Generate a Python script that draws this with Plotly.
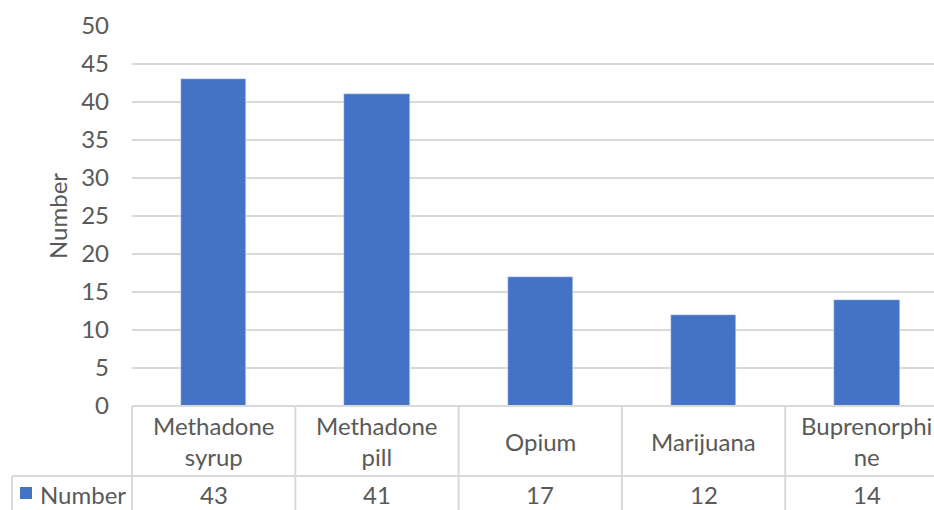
import plotly.graph_objects as go

categories = ["Methadone<br>syrup", "Methadone<br>pill", "Opium", "Marijuana", "Buprenorphi<br>ne"]
values = [43, 41, 17, 12, 14]
series_name = "Number"
y_title = "Number"

W, H = 934, 510
L, R, T, B = 132, 0, 26, 104
plot_w = W - L - R
plot_h = H - T - B
col_w = 163.3
n = len(categories)
x_min = -0.5
x_max = x_min + plot_w / col_w

BAR = "#4472C4"
TXT = "#595959"
GRID = "#D9D9D9"
FONT = "Lato"
FS = 24

def px_x(px):
    return (px - L) / plot_w

def px_y(py):
    return (H - B - py) / plot_h

def data_x(xv):
    return (xv - x_min) / (x_max - x_min)

fig = go.Figure()
fig.add_trace(go.Bar(x=list(range(n)), y=values, marker_color=BAR, width=0.4,
                     name=series_name, showlegend=False))

shapes = []
row1_bot = 476
shapes.append(dict(type="line", xref="paper", yref="paper", x0=0, x1=1,
                   y0=px_y(406), y1=px_y(406), line=dict(color=GRID, width=2)))
shapes.append(dict(type="line", xref="paper", yref="paper", x0=px_x(12), x1=1,
                   y0=px_y(row1_bot), y1=px_y(row1_bot), line=dict(color=GRID, width=2)))
for i in range(n + 1):
    xp = data_x(i - 0.5)
    if xp > 1.0001:
        continue
    shapes.append(dict(type="line", xref="paper", yref="paper", x0=xp, x1=xp,
                       y0=px_y(406), y1=px_y(H + 5), line=dict(color=GRID, width=2)))
shapes.append(dict(type="line", xref="paper", yref="paper", x0=px_x(12), x1=px_x(12),
                   y0=px_y(row1_bot), y1=px_y(H + 5), line=dict(color=GRID, width=2)))
shapes.append(dict(type="rect", xref="paper", yref="paper", x0=px_x(20), x1=px_x(32),
                   y0=px_y(499), y1=px_y(487), fillcolor=BAR, line=dict(width=0)))

annotations = []
for i, (c, v) in enumerate(zip(categories, values)):
    annotations.append(dict(x=data_x(i), y=px_y(441), xref="paper", yref="paper",
                            text=c, showarrow=False, xanchor="center", yanchor="middle",
                            font=dict(family=FONT, size=FS, color=TXT)))
    annotations.append(dict(x=data_x(i), y=px_y(494), xref="paper", yref="paper",
                            text=str(v), showarrow=False, xanchor="center", yanchor="middle",
                            font=dict(family=FONT, size=FS, color=TXT)))
annotations.append(dict(x=px_x(38), y=px_y(494), xref="paper", yref="paper",
                        text=series_name, showarrow=False, xanchor="left", yanchor="middle",
                        font=dict(family=FONT, size=FS, color=TXT)))
annotations.append(dict(x=px_x(57), y=0.5, xref="paper", yref="paper",
                        text=y_title, showarrow=False, textangle=-90,
                        xanchor="center", yanchor="middle",
                        font=dict(family=FONT, size=FS, color=TXT)))

fig.update_layout(
    width=W, height=H,
    margin=dict(l=L, r=R, t=T, b=B, pad=0),
    plot_bgcolor="white", paper_bgcolor="white",
    xaxis=dict(range=[x_min, x_max], showticklabels=False, showgrid=False,
               zeroline=False, showline=False, ticks=""),
    yaxis=dict(range=[0, 50], dtick=5, showgrid=True, gridcolor=GRID, gridwidth=2,
               zeroline=False, showline=False, ticks="", ticklabelstandoff=22,
               tickfont=dict(family=FONT, size=FS, color=TXT)),
    shapes=shapes, annotations=annotations,
    bargap=0,
)

fig.write_html("out.html")
